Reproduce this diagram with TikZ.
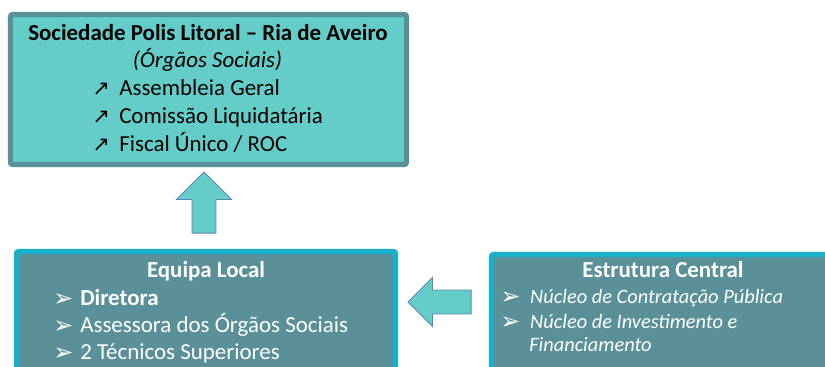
\documentclass[tikz,border=0pt]{standalone}
\usepackage{fontspec}
\setmainfont{Carlito}
\newfontfamily\symfont{DejaVu Sans}
\usetikzlibrary{shapes.arrows}

\definecolor{tealLight}{HTML}{64CDC7}
\definecolor{tealDark}{HTML}{5A9097}
\definecolor{cyanEdge}{HTML}{17B1CB}
\definecolor{arrowEdge}{HTML}{5B84BC}

\newcommand{\itemup}{\makebox[19.2pt][l]{\symfont\fontsize{15}{17}\selectfont ↗}}
\newcommand{\itembul}[1]{\makebox[#1][l]{\symfont\fontsize{17}{17}\selectfont\raisebox{-0.5pt}{➢}}}

\tikzset{
  orgbox/.style={draw, line width=3.6pt, rounded corners=1.5pt, inner sep=0pt},
  blockarrow/.style={single arrow, draw=arrowEdge, fill=tealLight, line width=0.7pt,
    inner sep=0.2875cm, single arrow head indent=0pt},
  txt/.style={anchor=base west, inner sep=0pt, font=\fontsize{16.3}{19}\selectfont},
  hdr/.style={anchor=base, inner sep=0pt, font=\fontsize{16.3}{19}\selectfont\bfseries},
  smalltxt/.style={txt, font=\fontsize{14.5}{17}\selectfont\itshape}
}

\begin{document}
\begin{tikzpicture}[x=0.025cm, y=-0.025cm]
    \clip (0,0) rectangle (825,367);
    % boxes
    \node[orgbox, draw=tealDark, fill=tealLight, minimum width=9.9cm, minimum height=3.75cm]
	(polis) at (208.5,89.5) {};
    \node[orgbox, draw=cyanEdge, fill=tealDark, minimum width=9.475cm, minimum height=3.7125cm]
	(equipa) at (206,325.75) {};
    \node[orgbox, draw=cyanEdge, fill=tealDark, minimum width=9.2125cm, minimum height=3.6375cm]
	(central) at (675.75,327.25) {};
    % arrows
    \node[blockarrow, shape border rotate=90, minimum height=1.525cm,
	single arrow head extend=0.3875cm] (up) at (204,208.5) {};
    \node[blockarrow, shape border rotate=180, minimum height=1.575cm,
	single arrow head extend=0.3125cm] (left) at (445.5,302) {};
    % top box text
    \node[hdr] (polisTitle) at (208,41) {Sociedade Polis Litoral – Ria de Aveiro};
    \node[hdr, font=\fontsize{16.3}{19}\selectfont\itshape] (polisSub) at (207.5,68) {(Órgãos Sociais)};
    \node[txt] (ag) at (92,96) {\itemup Assembleia Geral};
    \node[txt] (cl) at (92,124) {\itemup Comissão Liquidatária};
    \node[txt] (fu) at (92,152) {\itemup Fiscal Único / ROC};
    % equipa local text
    \node[hdr, text=white] (equipaTitle) at (206,278) {Equipa Local};
    \node[txt, text=white] (dir) at (53,306) {\itembul{19.2pt}\textbf{Diretora}};
    \node[txt, text=white] (ass) at (53,333) {\itembul{19.2pt}Assessora dos Órgãos Sociais};
    \node[txt, text=white] (tec) at (53,360) {\itembul{19.2pt}2 Técnicos Superiores};
    % estrutura central text
    \node[hdr, text=white] (centralTitle) at (663,278) {Estrutura Central};
    \node[smalltxt, text=white] (ncp) at (500,304) {\itembul{21.3pt}Núcleo de Contratação Pública};
    \node[smalltxt, text=white] (nif) at (500,329) {\itembul{21.3pt}Núcleo de Investimento e};
    \node[smalltxt, text=white] (nif2) at (529,352) {Financiamento};
\end{tikzpicture}
\end{document}
